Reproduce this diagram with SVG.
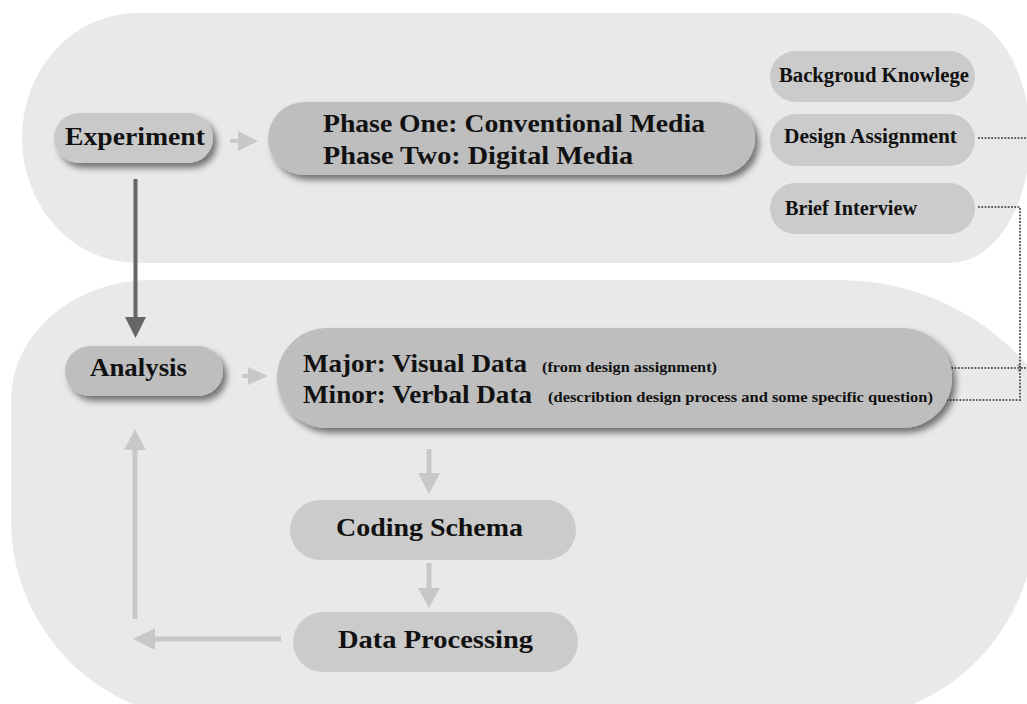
<svg xmlns="http://www.w3.org/2000/svg" width="1027" height="704" viewBox="0 0 1027 704">
<defs>
<style>
.bg{fill:#e9e9e9}
.n1{fill:#c9c9c9}
.n2{fill:#bebebe}
.n3{fill:#cbcbcb}
.t{font-family:"Liberation Serif","Times New Roman",serif;font-weight:bold;fill:#111}
.big{font-size:25px}
.mid{font-size:20px}
.sm{font-size:14px}
.la{fill:#c8c8c8}
.ls{stroke:#c8c8c8;stroke-width:5;fill:none}
.dk{stroke:#666;stroke-width:4;fill:none}
.dot{stroke:#5e5e5e;stroke-width:2;stroke-dasharray:1.8 1.5;fill:none}
</style>
<filter id="sh" x="-10%" y="-20%" width="125%" height="160%">
<feDropShadow dx="4" dy="5" stdDeviation="3" flood-color="#000" flood-opacity="0.5"/>
</filter>
</defs>
<rect width="1027" height="704" fill="#ffffff"/>
<g id="backgrounds">
<path class="bg" d="M137,13 H950 A80,125 0 0 1 950,263 H137 A115,125 0 0 1 137,13 Z"/>
<path class="bg" d="M151,280 H840 A250,250 0 0 1 1064,420 L1064,520 L1035,520 A200,200 0 0 1 835,720 H211 A200,200 0 0 1 11,520 V400 A140,120 0 0 1 151,280 Z"/>
</g>
<g id="connectors">
<line class="dk" x1="135.5" y1="179" x2="135.5" y2="318"/>
<polygon fill="#666" points="125,317 146,317 135.5,338"/>
<line x1="230" y1="141" x2="240" y2="141" stroke="#c8c8c8" stroke-width="4"/>
<polygon class="la" points="238,131 258,141 238,151"/>
<line x1="242" y1="376" x2="250" y2="376" stroke="#c8c8c8" stroke-width="4"/>
<polygon class="la" points="248,367 268,376 248,385"/>
<line class="ls" x1="429" y1="449" x2="429" y2="475"/>
<polygon class="la" points="418,473 440,473 429,494"/>
<line class="ls" x1="429" y1="563" x2="429" y2="590"/>
<polygon class="la" points="418,588 440,588 429,608"/>
<line class="ls" x1="281" y1="639" x2="152" y2="639"/>
<polygon class="la" points="155,628 133,639 155,650"/>
<line class="ls" x1="135" y1="619" x2="135" y2="448"/>
<polygon class="la" points="124,450 146,450 135,429"/>
<path class="dot" d="M978,138 H1027"/>
<path class="dot" d="M978,207 H1020 V400 H937"/>
<path class="dot" d="M727,368 H1027"/>
<path d="M1018,365 L1022,368 L1018,371" stroke="#5e5e5e" stroke-width="1.3" fill="none"/>
</g>
<g id="node-experiment">
<rect class="n1" x="54" y="113" width="159" height="50" rx="25" filter="url(#sh)"/>
<text class="t big" x="65" y="145" textLength="140" lengthAdjust="spacingAndGlyphs">Experiment</text>
</g>
<g id="node-phases">
<rect class="n2" x="268" y="102" width="487" height="73" rx="36.5" filter="url(#sh)"/>
<text class="t big" x="323" y="132" textLength="382" lengthAdjust="spacingAndGlyphs">Phase One: Conventional Media</text>
<text class="t big" x="323" y="164" textLength="310" lengthAdjust="spacingAndGlyphs">Phase Two: Digital Media</text>
</g>
<g id="node-background">
<rect class="n3" x="770" y="51" width="205" height="51" rx="25.5"/>
<text class="t mid" x="779" y="82" textLength="190" lengthAdjust="spacingAndGlyphs">Backgroud Knowlege</text>
</g>
<g id="node-design">
<rect class="n3" x="770" y="114" width="205" height="52" rx="26"/>
<text class="t mid" x="784" y="143" textLength="173" lengthAdjust="spacingAndGlyphs">Design Assignment</text>
</g>
<g id="node-interview">
<rect class="n3" x="770" y="183" width="205" height="51" rx="25.5"/>
<text class="t mid" x="785" y="215" textLength="132" lengthAdjust="spacingAndGlyphs">Brief Interview</text>
</g>
<g id="node-analysis">
<rect class="n2" x="65" y="346" width="158" height="50" rx="25" filter="url(#sh)"/>
<text class="t big" x="90" y="376" textLength="97" lengthAdjust="spacingAndGlyphs">Analysis</text>
</g>
<g id="node-data">
<rect class="n2" x="277" y="328" width="675" height="100" rx="50" filter="url(#sh)"/>
<text class="t big" x="303" y="372" textLength="224" lengthAdjust="spacingAndGlyphs">Major: Visual Data</text>
<text class="t big" x="303" y="403" textLength="229" lengthAdjust="spacingAndGlyphs">Minor: Verbal Data</text>
<text class="t sm" x="542" y="372" textLength="175" lengthAdjust="spacingAndGlyphs">(from design assignment)</text>
<text class="t sm" x="548" y="402" textLength="385" lengthAdjust="spacingAndGlyphs">(describtion design process and some specific question)</text>
</g>
<g id="node-coding">
<rect class="n3" x="290" y="500" width="286" height="60" rx="30"/>
<text class="t big" x="336" y="536" textLength="187" lengthAdjust="spacingAndGlyphs">Coding Schema</text>
</g>
<g id="node-processing">
<rect class="n3" x="293" y="612" width="285" height="60" rx="30"/>
<text class="t big" x="338" y="648" textLength="195" lengthAdjust="spacingAndGlyphs">Data Processing</text>
</g>
</svg>
